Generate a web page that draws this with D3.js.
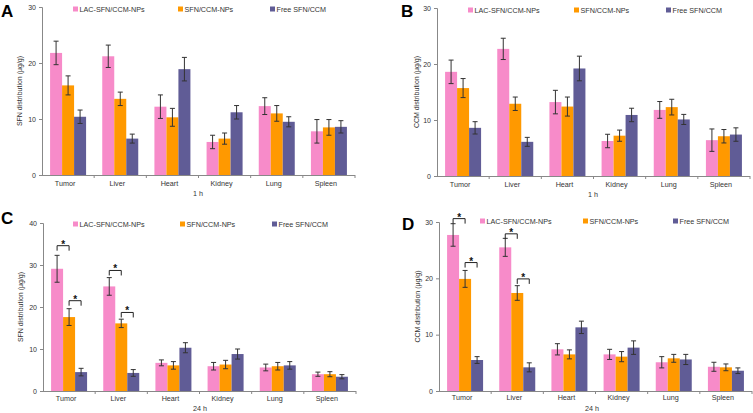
<!DOCTYPE html>
<html><head><meta charset="utf-8">
<script src="https://cdn.jsdelivr.net/npm/d3@7"></script>
<style>body{margin:0;background:#fff;}svg{display:block;font-family:"Liberation Sans",Arial,sans-serif;}</style>
</head><body><svg id="c" width="753" height="413"></svg>
<script>
const categories = ["Tumor","Liver","Heart","Kidney","Lung","Spleen"];
const seriesNames = ["LAC-SFN/CCM-NPs","SFN/CCM-NPs","Free SFN/CCM"];
const colors = ["#F78BC9","#FF9900","#605C96"];

// Panel A: SFN 1 h
const aLAC = [21.8,21.2,12.2,5.9,12.3,7.8];
const aLACerr = [2.1,2.0,2.1,1.2,1.5,2.1];
const aNP = [16.0,13.6,10.3,6.5,11.0,8.5];
const aNPerr = [1.7,1.2,1.6,1.0,1.4,1.4];
const aFree = [10.4,6.5,18.9,11.2,9.5,8.6];
const aFreeErr = [1.2,0.8,2.1,1.2,0.9,1.1];
// Panel B: CCM 1 h
const bLAC = [18.6,22.7,13.2,6.25,11.8,6.4];
const bLACerr = [2.1,1.9,2.1,1.2,1.5,2.0];
const bNP = [15.7,12.9,12.4,7.2,12.3,7.1];
const bNPerr = [1.7,1.2,1.7,1.0,1.4,1.2];
const bFree = [8.6,6.1,19.2,10.9,10.1,7.4];
const bFreeErr = [1.1,0.8,2.2,1.2,0.9,1.2];
// Panel C: SFN 24 h
const cLAC = [29.1,24.9,6.7,5.9,5.6,4.0];
const cLACerr = [3.2,2.1,0.7,0.9,0.8,0.5];
const cNP = [17.6,16.1,6.1,6.3,5.9,4.0];
const cNPerr = [2.0,1.0,0.9,1.0,0.9,0.6];
const cFree = [4.5,4.3,10.3,8.8,6.1,3.4];
const cFreeErr = [0.9,0.8,1.2,1.2,0.9,0.5];
// Panel D: CCM 24 h
const dLAC = [27.7,25.5,7.4,6.5,5.1,4.3];
const dLACerr = [2.0,1.6,1.0,0.9,1.0,0.8];
const dNP = [19.9,17.4,6.5,6.1,5.8,4.2];
const dNPerr = [1.5,1.3,0.8,0.9,0.7,0.6];
const dFree = [5.5,4.2,11.3,7.7,5.6,3.6];
const dFreeErr = [0.6,0.8,1.1,1.2,0.9,0.5];

const ticksA = [0,10,20,30];
const ticksC = [0,10,20,30,40];
// significance brackets: category, series pair, bracket level
const sigC = [["Tumor",0,1,34.6],["Tumor",1,2,21.5],["Liver",0,1,28.7],["Liver",1,2,18.7]];
const sigD = [["Tumor",0,1,30.6],["Tumor",1,2,22.8],["Liver",0,1,27.9],["Liver",1,2,19.9]];

const svg = d3.select("#c");

const panels = [
 {letter:"A", lx:1, ly:17, x0:42, x1:355, yt:7, yb:175, max:30, ticks:ticksA, ylab:"SFN distribution (μg/g)", ylx:20, xt:"1 h", xtx:198, xty:196, cly:186, legY:9, legX:[73,178,270],
  vals:[aLAC,aNP,aFree], errs:[aLACerr,aNPerr,aFreeErr], sig:[]},
 {letter:"B", lx:401, ly:17, x0:437, x1:750, yt:8, yb:176, max:30, ticks:ticksA, ylab:"CCM distribution (μg/g)", ylx:417, xt:"1 h", xtx:593, xty:197, cly:187, legY:10, legX:[468,574,666],
  vals:[bLAC,bNP,bFree], errs:[bLACerr,bNPerr,bFreeErr], sig:[]},
 {letter:"C", lx:1, ly:224, x0:43, x1:356, yt:223, yb:391, max:40, ticks:ticksC, ylab:"SFN distribution (μg/g)", ylx:21, xt:"24 h", xtx:200, xty:411, cly:401, legY:224, legX:[73,180,272],
  vals:[cLAC,cNP,cFree], errs:[cLACerr,cNPerr,cFreeErr], sig:sigC},
 {letter:"D", lx:402, ly:230, x0:439, x1:752, yt:222, yb:391, max:30, ticks:ticksA, ylab:"CCM distribution (μg/g)", ylx:418, xt:"24 h", xtx:592, xty:411, cly:400, legY:221, legX:[480,583,673],
  vals:[dLAC,dNP,dFree], errs:[dLACerr,dNPerr,dFreeErr], sig:sigD}
];

panels.forEach(p => {
  const g = svg.append("g");
  const x = d3.scaleBand().domain(categories).range([p.x0, p.x1]);
  const xs = d3.scaleBand().domain([0,1,2]).range([0, 36]);
  const bw = xs.bandwidth();
  const y = d3.scaleLinear().domain([0, p.max]).range([p.yb, p.yt]);
  const off = (x.bandwidth() - 36) / 2;

  // bars
  p.vals.forEach((arr, s) => {
    g.selectAll(null).data(categories).enter().append("rect")
      .attr("x", c => x(c) + off + xs(s))
      .attr("y", (c,i) => y(arr[i]))
      .attr("width", bw)
      .attr("height", (c,i) => y(0) - y(arr[i]))
      .attr("fill", colors[s]);
  });
  // error bars
  p.vals.forEach((arr, s) => {
    const er = p.errs[s];
    categories.forEach((c,i) => {
      const cx = x(c) + off + xs(s) + bw/2;
      const top = y(arr[i] + er[i]), bot = y(arr[i] - er[i]);
      g.append("line").attr("x1",cx).attr("x2",cx).attr("y1",top).attr("y2",bot).attr("stroke","#333").attr("stroke-width",1);
      [top,bot].forEach(yy => g.append("line").attr("x1",cx-2.5).attr("x2",cx+2.5).attr("y1",yy).attr("y2",yy).attr("stroke","#333").attr("stroke-width",1));
    });
  });
  // y axis
  const ya = d3.axisLeft(y).tickValues(p.ticks).tickSize(3).tickPadding(3);
  const yg = g.append("g").attr("transform",`translate(${p.x0},0)`).call(ya);
  yg.select(".domain").attr("stroke","#888");
  yg.selectAll(".tick line").attr("stroke","#888");
  yg.selectAll("text").attr("font-size",7).attr("fill","#333").attr("font-family","Liberation Sans, Arial, sans-serif");
  // x axis
  g.append("line").attr("x1",p.x0).attr("x2",p.x1).attr("y1",p.yb+0.5).attr("y2",p.yb+0.5).attr("stroke","#888");
  categories.forEach((c,i) => {
    const tx = x(c) + x.bandwidth();
    g.append("line").attr("x1",tx).attr("x2",tx).attr("y1",p.yb).attr("y2",p.yb+3).attr("stroke","#888");
  });
  g.selectAll(null).data(categories).enter().append("text")
    .attr("x", c => x(c) + x.bandwidth()/2 - 3).attr("y", p.cly)
    .attr("text-anchor","middle").attr("font-size",7.2).attr("fill","#333").text(c => c);
  // titles
  g.append("text").attr("x",p.xtx).attr("y",p.xty).attr("text-anchor","middle").attr("font-size",7.2).attr("fill","#333").text(p.xt);
  g.append("text").attr("transform",`translate(${p.ylx},${(p.yt+p.yb)/2}) rotate(-90)`).attr("text-anchor","middle")
    .attr("font-size",7).attr("fill","#333").attr("dy","0.35em").text(p.ylab);
  g.append("text").attr("x",p.lx).attr("y",p.ly).attr("font-size",17).attr("font-weight","bold").attr("fill","#000").text(p.letter);
  // legend
  seriesNames.forEach((n,s) => {
    g.append("rect").attr("x",p.legX[s]).attr("y",p.legY-2.5).attr("width",5).attr("height",5).attr("fill",colors[s]);
    g.append("text").attr("x",p.legX[s]+6.5).attr("y",p.legY).attr("dy","0.35em").attr("font-size",7.2).attr("fill","#333").text(n);
  });
  // significance
  p.sig.forEach(([c,a,b,lev]) => {
    const xa = x(c) + off + xs(a) + bw/2, xb = x(c) + off + xs(b) + bw/2;
    const yy = y(lev);
    g.append("path").attr("d",`M${xa},${yy+5}V${yy}H${xb}V${yy+5}`).attr("fill","none").attr("stroke","#222").attr("stroke-width",1);
    g.append("text").attr("x",(xa+xb)/2).attr("y",yy+2).attr("text-anchor","middle").attr("font-size",10).attr("font-weight","bold").attr("fill","#111").text("*");
  });
});
</script></body></html>
